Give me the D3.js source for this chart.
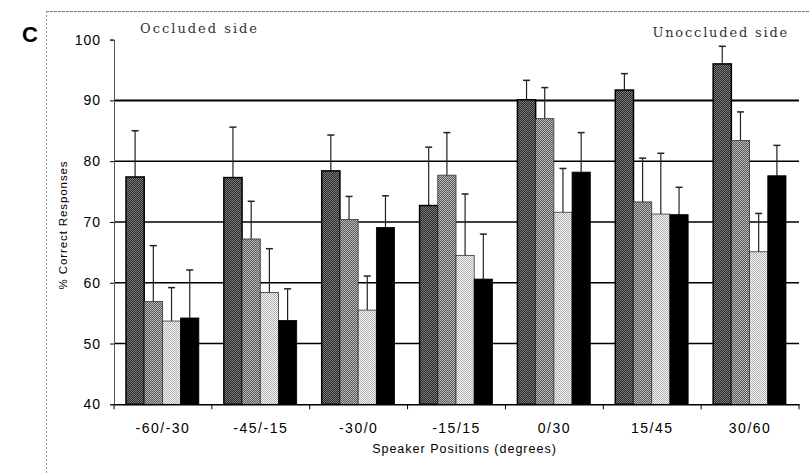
<!DOCTYPE html>
<html><head><meta charset="utf-8">
<script src="https://cdn.jsdelivr.net/npm/d3@7"></script>
<style>body{margin:0;background:#fff}svg{display:block}</style>
</head><body><svg id="c" width="810" height="473"></svg>
<script>
const categories = ["-60/-30","-45/-15","-30/0","-15/15","0/30","15/45","30/60"];
const series1 = [77.4, 77.3, 78.4, 72.7, 90.1, 91.7, 96.0];
const series2 = [56.9, 67.2, 70.4, 77.7, 87.0, 73.3, 83.4];
const series3 = [53.7, 58.4, 55.5, 64.5, 71.6, 71.3, 65.1];
const series4 = [54.2, 53.8, 69.1, 60.6, 78.2, 71.2, 77.6];
const err1 = [85.0, 85.6, 84.3, 82.3, 93.3, 94.4, 98.9];
const err2 = [66.1, 73.4, 74.2, 84.7, 92.1, 80.5, 88.1];
const err3 = [59.2, 65.6, 61.1, 74.6, 78.8, 81.3, 71.4];
const err4 = [62.1, 59.0, 74.3, 68.0, 84.7, 75.7, 82.6];
const yTicks = [40, 50, 60, 70, 80, 90, 100];
const gridValues = [50, 60, 70, 80, 90];

(function(){
const svg = d3.select("#c");
const defs = svg.append("defs");
const pats = [["p1","#2a2a2a","#7a7a7a"],["p2","#5a5a5a","#b8b8b8"],["p3","#f4f4f4","#b4b4b4"],["p4","#000","#000"]];
pats.forEach(([id,a,b])=>{
  const p = defs.append("pattern").attr("id",id).attr("patternUnits","userSpaceOnUse").attr("width",2).attr("height",2);
  p.append("rect").attr("width",2).attr("height",2).attr("fill",a);
  p.append("rect").attr("width",1).attr("height",1).attr("fill",b);
  p.append("rect").attr("x",1).attr("y",1).attr("width",1).attr("height",1).attr("fill",b);
});
const font = "Liberation Sans, Arial, sans-serif";

// frame
svg.append("line").attr("x1",46).attr("x2",810).attr("y1",11.5).attr("y2",11.5).attr("stroke","#777").attr("stroke-dasharray","3,1");
svg.append("line").attr("x1",46.5).attr("x2",46.5).attr("y1",11).attr("y2",473).attr("stroke","#999").attr("stroke-dasharray","2,2");

svg.append("text").attr("x",22).attr("y",42).attr("font-family",font).attr("font-weight","bold").attr("font-size",22).text("C");

const pl = 114, pr = 799, pt = 39.6, pb = 404.3;
const x = d3.scaleBand().domain(categories).range([pl,pr]).paddingInner(0).paddingOuter(0);
const y = d3.scaleLinear().domain([40,100]).range([pb,pt]);

// gridlines
svg.append("g").selectAll("line").data(gridValues).join("line")
  .attr("x1",pl).attr("x2",pr).attr("y1",d=>y(d)).attr("y2",d=>y(d))
  .attr("stroke","#000").attr("stroke-width",d=>d===90?2:1.5);

const seriesList = [series1,series2,series3,series4];
const errList = [err1,err2,err3,err4];
const sub = d3.scaleBand().domain([0,1,2,3]).range([12, x.bandwidth()-13]).padding(0);

const g = svg.append("g");
categories.forEach((c,i)=>{
  seriesList.forEach((s,k)=>{
    const bx = x(c)+sub(k), bw = sub.bandwidth();
    g.append("line").attr("x1",bx+bw/2).attr("x2",bx+bw/2).attr("y1",y(s[i])).attr("y2",y(errList[k][i]))
      .attr("stroke","#222").attr("stroke-width",1.2);
    g.append("line").attr("x1",bx+bw/2-3.5).attr("x2",bx+bw/2+3.5).attr("y1",y(errList[k][i])).attr("y2",y(errList[k][i]))
      .attr("stroke","#222").attr("stroke-width",1.5);
  });
});
categories.forEach((c,i)=>{
  seriesList.forEach((s,k)=>{
    const bx = x(c)+sub(k), bw = sub.bandwidth();
    g.append("rect").attr("x",bx).attr("y",y(s[i])).attr("width",bw).attr("height",pb-y(s[i]))
      .attr("fill",`url(#p${k+1})`).attr("stroke",k===0||k===3?"#000":"#333").attr("stroke-width",k===0?1.5:0.8);
  });
});

// axes
const yAxis = d3.axisLeft(y).tickValues(yTicks).tickSize(4).tickPadding(9);
const ya = svg.append("g").attr("transform",`translate(${pl},0)`).call(yAxis);
ya.select(".domain").attr("stroke","#555");
ya.selectAll("text").attr("font-family",font).attr("font-size",14).attr("letter-spacing",1).attr("fill","#000");

const xAxis = d3.axisBottom(x).tickSize(0).tickPadding(19);
const xa = svg.append("g").attr("transform",`translate(0,${pb})`).call(xAxis);
xa.select(".domain").attr("stroke","#000").attr("stroke-width",1.5);
xa.selectAll("text").attr("font-family",font).attr("font-size",14).attr("letter-spacing",1.5).attr("fill","#000");
// boundary ticks
const bounds = categories.map(c=>x(c)).concat([pr]);
svg.append("g").selectAll("line").data(bounds).join("line")
  .attr("x1",d=>d).attr("x2",d=>d).attr("y1",pb).attr("y2",pb+5).attr("stroke","#000");

svg.append("text").attr("x",(pl+pr)/2+8).attr("y",453).attr("text-anchor","middle")
  .attr("font-family",font).attr("font-size",12.5).attr("letter-spacing",1).text("Speaker Positions (degrees)");
svg.append("text").attr("transform","translate(67,225) rotate(-90)").attr("text-anchor","middle")
  .attr("font-family",font).attr("font-size",11.5).attr("letter-spacing",0.9).text("% Correct Responses");

svg.append("text").attr("x",140).attr("y",33).attr("font-family","DejaVu Serif, serif").attr("font-size",13).attr("fill","#333").attr("letter-spacing",2).text("Occluded side");
svg.append("text").attr("x",789).attr("y",37).attr("text-anchor","end").attr("font-family","DejaVu Serif, serif").attr("font-size",13).attr("fill","#333").attr("letter-spacing",1.8).text("Unoccluded side");
})();
</script></body></html>
